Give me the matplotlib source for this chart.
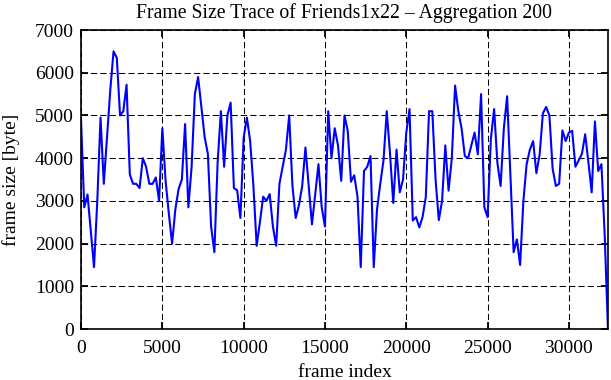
import numpy as np
import matplotlib
matplotlib.use("Agg")
import matplotlib.pyplot as plt

step = 200
frame_size = [
    4900, 2850, 3150, 2300, 1450, 3000, 4950, 3400, 4500, 5600,
    6500, 6350, 5000, 5100, 5720, 3620, 3400, 3400, 3300, 4000,
    3800, 3400, 3400, 3550, 3000, 4700, 3470, 2700, 2000, 2800,
    3280, 3500, 4800, 2850, 3800, 5500, 5900, 5200, 4500, 4100,
    2400, 1800, 3900, 5100, 3800, 5000, 5300, 3300, 3250, 2600,
    4480, 4950, 4400, 3350, 1950, 2500, 3100, 3000, 3160, 2400,
    1950, 3400, 3800, 4200, 5000, 3350, 2600, 2900, 3350, 4250,
    3350, 2450, 3160, 3860, 2850, 2400, 5100, 4000, 4700, 4300,
    3470, 5000, 4640, 3450, 3600, 3100, 1450, 3700, 3800, 4050,
    1450, 2800, 3400, 3950, 5100, 4100, 2950, 4200, 3200, 3500,
    4600, 5150, 2540, 2620, 2380, 2620, 3090, 5100, 5100, 3500,
    2550, 3000, 4300, 3240, 4000, 5700, 5100, 4700, 4050, 4000,
    4300, 4600, 4090, 5500, 2850, 2620, 4450, 5150, 3900, 3350,
    4700, 5450, 3600, 1800, 2100, 1500, 3000, 3860, 4200, 4400,
    3650, 4090, 5050, 5200, 5000, 3750, 3350, 3400, 4650, 4400,
    4600, 4640, 3800, 3950, 4100, 4560, 3900, 3200, 4860, 3700,
    3860, 2200, 0,
]
frame_index = np.arange(len(frame_size)) * step

x_ticks = [0, 5000, 10000, 15000, 20000, 25000, 30000]
y_ticks = [0, 1000, 2000, 3000, 4000, 5000, 6000, 7000]

plt.rcParams['font.family'] = ['Liberation Serif', 'DejaVu Serif']

fig = plt.figure(figsize=(6.11, 3.80), dpi=100)
ax = fig.add_axes([0.1326, 0.134, 0.8624, 0.787])

ax.plot(frame_index, frame_size, color=(0, 0, 1), lw=1.5)

ax.set_xlim(0, frame_index[-1])
ax.set_ylim(0, 7000)
ax.set_xticks(x_ticks)
ax.set_yticks(y_ticks)
ax.tick_params(direction='in', length=5, width=1.3, labelsize=14,
               top=True, right=True, pad=5)
ax.tick_params(axis='x', pad=8)
ax.grid(True, color='black', linestyle=(0, (6, 3)), linewidth=0.75)
for s in ax.spines.values():
    s.set_linewidth(1.2)

ax.set_xlabel('frame index', fontsize=14, labelpad=5)
ax.set_ylabel('frame size [byte]', fontsize=14, labelpad=11)
ax.set_title('Frame Size Trace of Friends1x22 \u2013 Aggregation 200',
             fontsize=14.2, pad=9)

fig.savefig('out.png', dpi=100)
